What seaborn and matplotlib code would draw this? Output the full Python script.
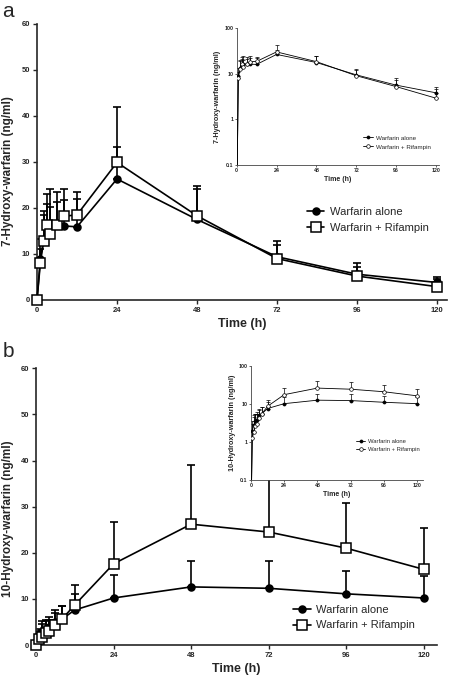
import numpy as np
import matplotlib
matplotlib.use("Agg")
import matplotlib.pyplot as plt
import seaborn as sns
import pandas as pd

# sampling times (h)
times = [0, 1, 2, 3, 4, 6, 8, 12, 24, 48, 72, 96, 120]

# panel a: 7-hydroxy-warfarin (ng/ml), mean and SD
a_alone = [0, 9.0, 13.0, 15.5, 16.1, 16.3, 16.1, 15.9, 26.3, 17.5, 9.4, 5.6, 3.8]
a_alone_sd = [0, 4.3, 5.5, 5.4, 4.2, 5.1, 5.6, 6.0, 7.0, 6.6, 2.6, 1.5, 1.3]
a_rif = [0, 8.0, 12.9, 16.3, 14.3, 16.3, 18.2, 18.5, 29.9, 18.3, 9.0, 5.2, 2.9]
a_rif_sd = [0, 3.0, 6.5, 6.7, 9.8, 7.2, 6.0, 5.0, 12.1, 6.5, 3.9, 2.9, 1.6]

# panel b: 10-hydroxy-warfarin (ng/ml), mean and SD
b_alone = [0, 2.0, 2.8, 3.5, 3.9, 5.1, 5.6, 7.6, 10.2, 12.6, 12.3, 11.1, 10.2]
b_alone_sd = [0, 1.0, 1.7, 1.8, 1.6, 2.5, 2.8, 3.4, 5.0, 5.6, 5.9, 5.0, 4.7]
b_rif = [0, 1.3, 1.8, 2.7, 3.0, 4.3, 5.6, 8.7, 17.6, 26.2, 24.5, 21.0, 16.4]
b_rif_sd = [0, 2.2, 3.4, 2.8, 3.0, 2.7, 2.9, 4.4, 9.0, 12.9, 12.5, 9.9, 8.9]

series = ["Warfarin alone", "Warfarin + Rifampin"]
xticks = [0, 24, 48, 72, 96, 120]

sns.set_style("ticks")
plt.rcParams["font.family"] = ["Liberation Sans", "DejaVu Sans"]

fig = plt.figure(figsize=(4.53, 6.75), dpi=100)


def make_df(alone, alone_sd, rif, rif_sd):
    d1 = pd.DataFrame({"time": times, "conc": alone, "sd": alone_sd, "group": series[0]})
    d2 = pd.DataFrame({"time": times, "conc": rif, "sd": rif_sd, "group": series[1]})
    return pd.concat([d1, d2], ignore_index=True)


def draw(ax, df, inset=False):
    for grp, mk, fc in [(series[0], "o", "black"), (series[1], "s" if not inset else "o", "white")]:
        d = df[df.group == grp].copy()
        y = d["conc"].values.copy()
        if inset:
            # log axis: zero baseline drawn down through the bottom of the axis
            y = np.where(y <= 0, 0.01, y)
        ax.errorbar(d["time"], y, yerr=[np.zeros(len(d)), d["sd"]], fmt="none",
                    ecolor="black", elinewidth=0.5 if inset else 1.2,
                    capsize=1.2 if inset else 3, capthick=0.5 if inset else 1.2, zorder=1)
        ms = (2.2 if inset else 5) if fc == "black" else (2.6 if inset else 6.5)
        sns.lineplot(x=d["time"].values, y=y, ax=ax, color="black",
                     lw=0.6 if inset else 1.2, marker=mk, markersize=ms,
                     markerfacecolor=fc, markeredgecolor="black",
                     markeredgewidth=0.5 if inset else 1.1, label=grp,
                     clip_on=inset, zorder=3)


def style_main(ax, ylabel, xmax, label_y):
    ax.set_xlim(0, xmax)
    ax.set_ylim(0, 60)
    ax.set_xticks(xticks)
    ax.set_yticks(range(0, 61, 10))
    sns.despine(ax=ax)
    for s in ["left", "bottom"]:
        ax.spines[s].set_linewidth(1.2)
    ax.tick_params(labelsize=5.5, width=1, length=3, pad=2)
    for t in ax.get_xticklabels() + ax.get_yticklabels():
        t.set_fontweight("bold")
    ax.set_xlabel("Time (h)", fontsize=9, fontweight="bold", labelpad=3)
    ax.set_ylabel(ylabel, fontsize=8.5, fontweight="bold")
    ax.yaxis.set_label_coords(-0.056, label_y)


def style_inset(ax, ylabel, xmax):
    ax.set_facecolor("white")
    ax.set_yscale("log")
    ax.set_xlim(0, xmax)
    ax.set_ylim(0.1, 100)
    ax.set_xticks(xticks)
    ax.set_yticks([0.1, 1, 10, 100])
    ax.set_yticklabels(["0.1", "1", "10", "100"])
    ax.minorticks_off()
    sns.despine(ax=ax)
    for s in ["left", "bottom"]:
        ax.spines[s].set_linewidth(0.6)
        ax.spines[s].set_color("#444444")
    ax.tick_params(labelsize=3.8, width=0.5, length=1.5, pad=1)
    for t in ax.get_xticklabels() + ax.get_yticklabels():
        t.set_fontweight("bold")
    ax.set_xlabel("Time (h)", fontsize=5, fontweight="bold", labelpad=2)
    ax.set_ylabel(ylabel, fontsize=5.2, fontweight="bold", labelpad=2)


df_a = make_df(a_alone, a_alone_sd, a_rif, a_rif_sd)
df_b = make_df(b_alone, b_alone_sd, b_rif, b_rif_sd)

# panel a
ax_a = fig.add_axes([0.0817, 0.5556, 0.905, 0.4089])
draw(ax_a, df_a)
style_main(ax_a, "7-Hydroxy-warfarin (ng/ml)", 123, 0.467)
ax_a.legend(loc="center left", bbox_to_anchor=(0.655, 0.674), bbox_transform=fig.transFigure,
            frameon=False, fontsize=8, handlelength=1.6, handletextpad=0.5, labelspacing=0.5)

ins_a = fig.add_axes([0.5225, 0.7556, 0.4465, 0.203], zorder=5)
draw(ins_a, df_a, inset=True)
style_inset(ins_a, "7-Hydroxy-warfarin (ng/ml)", 121.8)
ins_a.legend(loc="center left", bbox_to_anchor=(0.79, 0.789), bbox_transform=fig.transFigure,
             frameon=False, fontsize=4.5, handlelength=1.5, handletextpad=0.5, labelspacing=0.6)

# panel b
ax_b = fig.add_axes([0.0795, 0.0444, 0.8845, 0.41])
draw(ax_b, df_b)
style_main(ax_b, "10-Hydroxy-warfarin (ng/ml)", 124, 0.457)
ax_b.legend(loc="center left", bbox_to_anchor=(0.625, 0.085), bbox_transform=fig.transFigure,
            frameon=False, fontsize=8, handlelength=1.6, handletextpad=0.5, labelspacing=0.5)

ins_b = fig.add_axes([0.554, 0.2889, 0.379, 0.1689], zorder=5)
draw(ins_b, df_b, inset=True)
style_inset(ins_b, "10-Hydroxy-warfarin (ng/ml)", 124)
ins_b.legend(loc="center left", bbox_to_anchor=(0.775, 0.34), bbox_transform=fig.transFigure,
             frameon=False, fontsize=4.2, handlelength=1.5, handletextpad=0.5, labelspacing=0.6)

fig.text(0.005, 0.997, "a", fontsize=15, va="top", ha="left")
fig.text(0.005, 0.493, "b", fontsize=15, va="top", ha="left")

fig.savefig("out.png", dpi=100)
